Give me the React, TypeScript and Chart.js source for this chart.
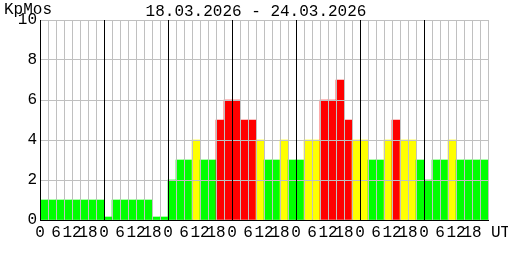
import React, { useEffect, useRef } from "react";
import { Chart, registerables } from "chart.js";

Chart.register(...registerables);

const chartTitle = "18.03.2026 - 24.03.2026";
const yAxisTitle = "KpMos";
const unitLabel = "UT";
const hourLabels = ["0", "6", "12", "18"];
const slotsPerDay = 8;
const dayCount = 7;
const yTickStep = 2;
const yMax = 10;

// Kp values, 3-hour slots, 18.03 - 24.03
const kpValues = [
  1, 1, 1, 1, 1, 1, 1, 1,
  0.15, 1, 1, 1, 1, 1, 0.15, 0.15,
  2, 3, 3, 4, 3, 3, 5, 6,
  6, 5, 5, 4, 3, 3, 4, 3,
  3, 4, 4, 6, 6, 7, 5, 4,
  4, 3, 3, 4, 5, 4, 4, 3,
  2, 3, 3, 4, 3, 3, 3, 3,
];

const FONT = "'Liberation Mono', 'Courier New', monospace";

function barColor(v: number) {
  if (v >= 5) return "#ff0000";
  if (v >= 4) return "#ffff00";
  return "#00ff00";
}

const textPlugin = {
  id: "texts",
  afterDraw(chart: any) {
    const ctx = chart.ctx;
    const area = chart.chartArea;
    ctx.save();
    ctx.fillStyle = "#000";
    ctx.font = `16px ${FONT}`;
    ctx.textBaseline = "top";
    ctx.textAlign = "left";
    ctx.fillText(yAxisTitle, 4, 2);
    ctx.textAlign = "center";
    ctx.fillText(chartTitle, 256, 4);
    ctx.textAlign = "left";
    ctx.fillText(unitLabel, area.right + 3, area.bottom + 5);
    ctx.restore();
  },
};

export default function App() {
  const ref = useRef<HTMLCanvasElement | null>(null);
  useEffect(() => {
    if (!ref.current) return;
    const total = slotsPerDay * dayCount;
    const chart = new Chart(ref.current, {
      type: "bar",
      data: {
        datasets: [
          {
            data: kpValues.map((v, i) => ({ x: i + 0.5, y: v })),
            backgroundColor: kpValues.map(barColor),
            borderWidth: 0,
            barPercentage: 1,
            categoryPercentage: 1,
          },
        ],
      },
      options: {
        animation: false,
        responsive: false,
        maintainAspectRatio: false,
        events: [],
        layout: { padding: { top: 20, right: 20, left: 0, bottom: 0 } },
        plugins: { legend: { display: false }, tooltip: { enabled: false }, title: { display: false } },
        scales: {
          y: {
            min: 0,
            max: yMax,
            z: 1,
            afterFit: (s: any) => {
              s.width = 40;
            },
            border: { display: true, color: "#000", width: 1, z: 3 },
            grid: { drawTicks: false, color: "#c0c0c0", lineWidth: 1, z: 1 },
            ticks: {
              stepSize: yTickStep,
              padding: 3,
              color: "#000",
              font: { family: FONT, size: 16 },
            },
          },
          x: {
            type: "linear",
            min: 0,
            max: total,
            offset: false,
            z: 1,
            afterFit: (s: any) => {
              s.height = 40;
            },
            border: { display: true, color: "#000", width: 1, z: 3 },
            grid: {
              offset: false,
              drawTicks: false,
              lineWidth: 1,
              z: 2,
              color: (c: any) =>
                c.tick && c.tick.value % slotsPerDay === 0 && c.tick.value < total
                  ? "#000"
                  : "#c0c0c0",
            },
            ticks: {
              stepSize: 1,
              autoSkip: false,
              maxRotation: 0,
              minRotation: 0,
              padding: 3,
              color: "#000",
              font: { family: FONT, size: 16 },
              callback: (v: any) => {
                const n = Number(v);
                if (n >= total || n % 2 !== 0) return "";
                return hourLabels[(n % slotsPerDay) / 2];
              },
            },
          },
        },
      },
      plugins: [textPlugin],
    } as any);
    return () => chart.destroy();
  }, []);
  return (
    <div style={{ position: "fixed", left: 0, top: 0, width: 508, height: 260, background: "#fff" }}>
      <canvas ref={ref} width={508} height={260} style={{ width: 508, height: 260, display: "block" }} />
    </div>
  );
}
